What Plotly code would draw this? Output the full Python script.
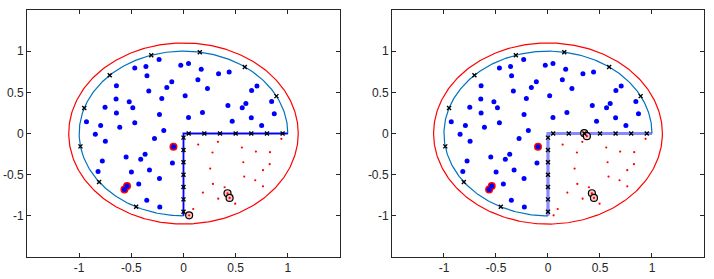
import numpy as np
import plotly.graph_objects as go
from plotly.subplots import make_subplots

# ---- data ----
inner_x = [-0.234, -0.467, -0.36, -0.35, -0.026, 0.048, 0.17, 0.336, 0.438, 0.138,
           0.23, -0.112, -0.16, -0.643, -0.333, -0.208, 0.016, -0.646, -0.52, -0.486,
           -0.752, -0.643, -0.23, -0.467, -0.611, -0.794, -0.93, -0.845, -0.749, -0.278,
           -0.189, 0.048, 0.182, 0.426, 0.598, 0.563, 0.467, 0.65, 0.749, 0.87,
           0.845, 0.653, 0.704, -0.55, -0.368, -0.41, -0.778, -0.819, -0.499, -0.326,
           -0.106, -0.23, -0.429, -0.352, -0.227, -0.096, -0.541, -0.566]
inner_y = [0.90, 0.795, 0.815, 0.70, 0.83, 0.85, 0.78, 0.726, 0.746, 0.653,
           0.548, 0.629, 0.56, 0.58, 0.515, 0.426, 0.458, 0.42, 0.385, 0.312,
           0.32, 0.25, 0.23, 0.13, 0.077, 0.097, 0.142, -0.008, -0.093, -0.061,
           0.037, 0.195, 0.256, 0.34, 0.365, 0.312, 0.15, 0.19, 0.097, 0.239,
           0.39, 0.523, 0.576, -0.284, -0.252, -0.312, -0.333, -0.462, -0.467, -0.442,
           -0.357, -0.548, -0.613, -0.811, -0.892, -0.162, -0.637, -0.68]

outer_x = [0.141, 0.33, 0.278, 0.56, 0.694, 0.829, 0.573, 0.826, 0.256, 0.762,
           0.582, 0.688, 0.282, 0.762, 0.394, 0.186, 0.333, 0.496, 0.093, 0.938,
           0.422, 0.442, 0.054]
outer_y = [-0.134, -0.101, -0.231, -0.17, -0.219, -0.227, -0.349, -0.373, -0.426, -0.446,
           -0.523, -0.568, -0.613, -0.641, -0.653, -0.718, -0.791, -0.852, -0.917, -0.065,
           -0.726, -0.783, -0.994]

extra_x_right = [0.348, 0.374]
extra_y_right = [0.004, -0.032]

flag_inner_x = [-0.096, -0.541, -0.566]
flag_inner_y = [-0.162, -0.637, -0.68]

flag_outer_x_left = [0.422, 0.442, 0.054]
flag_outer_y_left = [-0.726, -0.783, -0.994]
flag_outer_x_right = [0.422, 0.442, 0.348, 0.374]
flag_outer_y_right = [-0.726, -0.783, 0.004, -0.032]

arc_radius = 1.0
outer_radius = 1.1
arc_marker_deg = [27, 54, 81, 108, 135, 162, 189, 216, 243]
edge_marker_pos = [0.05, 0.2, 0.35, 0.5, 0.65, 0.8, 0.95]

tick_vals = [-1, -0.5, 0, 0.5, 1]
tick_text = ["-1", "-0.5", "0", "0.5", "1"]

# ---- geometry ----
t_arc = np.radians(np.linspace(0, 270, 300))
t_full = np.radians(np.linspace(0, 360, 400))
arc_x = arc_radius * np.cos(t_arc)
arc_y = arc_radius * np.sin(t_arc)
ell_x = outer_radius * np.cos(t_full)
ell_y = outer_radius * np.sin(t_full)
L_x = [0, 0, arc_radius]
L_y = [-arc_radius, 0, 0]
mk_ang = np.radians(arc_marker_deg)
bx = list(arc_radius * np.cos(mk_ang)) + list(edge_marker_pos) + [0] * len(edge_marker_pos)
by = list(arc_radius * np.sin(mk_ang)) + [0] * len(edge_marker_pos) + [-p for p in edge_marker_pos]

fig = make_subplots(rows=1, cols=2, horizontal_spacing=0.077)

for col in (1, 2):
    fig.add_trace(go.Scatter(x=ell_x, y=ell_y, mode="lines",
                             line=dict(color="#FF0000", width=1.2)), row=1, col=col)
    fig.add_trace(go.Scatter(x=arc_x, y=arc_y, mode="lines",
                             line=dict(color="#0072BD", width=1.2)), row=1, col=col)
    if col == 1:
        fig.add_trace(go.Scatter(x=L_x, y=L_y, mode="lines",
                                 line=dict(color="rgba(0,0,255,0.3)", width=2.8)), row=1, col=col)
        fig.add_trace(go.Scatter(x=L_x, y=L_y, mode="lines",
                                 line=dict(color="#0000FF", width=1.4)), row=1, col=col)
    else:
        fig.add_trace(go.Scatter(x=L_x, y=L_y, mode="lines",
                                 line=dict(color="rgba(60,60,255,0.6)", width=3.2)), row=1, col=col)
    fx = flag_outer_x_left if col == 1 else flag_outer_x_right
    fy = flag_outer_y_left if col == 1 else flag_outer_y_right
    fig.add_trace(go.Scatter(x=fx, y=fy, mode="markers",
                             marker=dict(symbol="circle", size=7, color="#FFC8C8",
                                         line=dict(color="black", width=1.2))), row=1, col=col)
    ox = outer_x + (extra_x_right if col == 2 else [])
    oy = outer_y + (extra_y_right if col == 2 else [])
    fig.add_trace(go.Scatter(x=ox, y=oy, mode="markers",
                             marker=dict(symbol="circle", size=2.2, color="#FF0000")), row=1, col=col)
    fig.add_trace(go.Scatter(x=flag_inner_x, y=flag_inner_y, mode="markers",
                             marker=dict(symbol="circle", size=8, color="#FF0000")), row=1, col=col)
    fig.add_trace(go.Scatter(x=inner_x, y=inner_y, mode="markers",
                             marker=dict(symbol="circle", size=5, color="#0000FF")), row=1, col=col)
    fig.add_trace(go.Scatter(x=bx, y=by, mode="markers",
                             marker=dict(symbol="x-thin", size=4, color="black",
                                         line=dict(color="black", width=1.4))), row=1, col=col)

axis_style = dict(range=[-1.5, 1.5], tickvals=tick_vals, ticktext=tick_text,
                  showgrid=False, zeroline=False, showline=True, mirror="ticks",
                  linecolor="#262626", linewidth=1, ticks="inside", ticklen=4,
                  tickcolor="#262626", automargin=False,
                  tickfont=dict(family="Liberation Sans, Arial", size=12, color="#262626"))
fig.update_xaxes(**axis_style)
fig.update_yaxes(**axis_style)

fig.update_layout(width=714, height=279, showlegend=False,
                  margin=dict(l=27, r=10, t=10, b=22),
                  paper_bgcolor="white", plot_bgcolor="white")
fig.update_layout(xaxis=dict(domain=[0, 0.4623]), xaxis2=dict(domain=[0.5391, 1.0]))

fig.write_html("out.html", config={"displayModeBar": False},
               post_script="document.body.style.margin='0';document.body.style.overflow='hidden';")
